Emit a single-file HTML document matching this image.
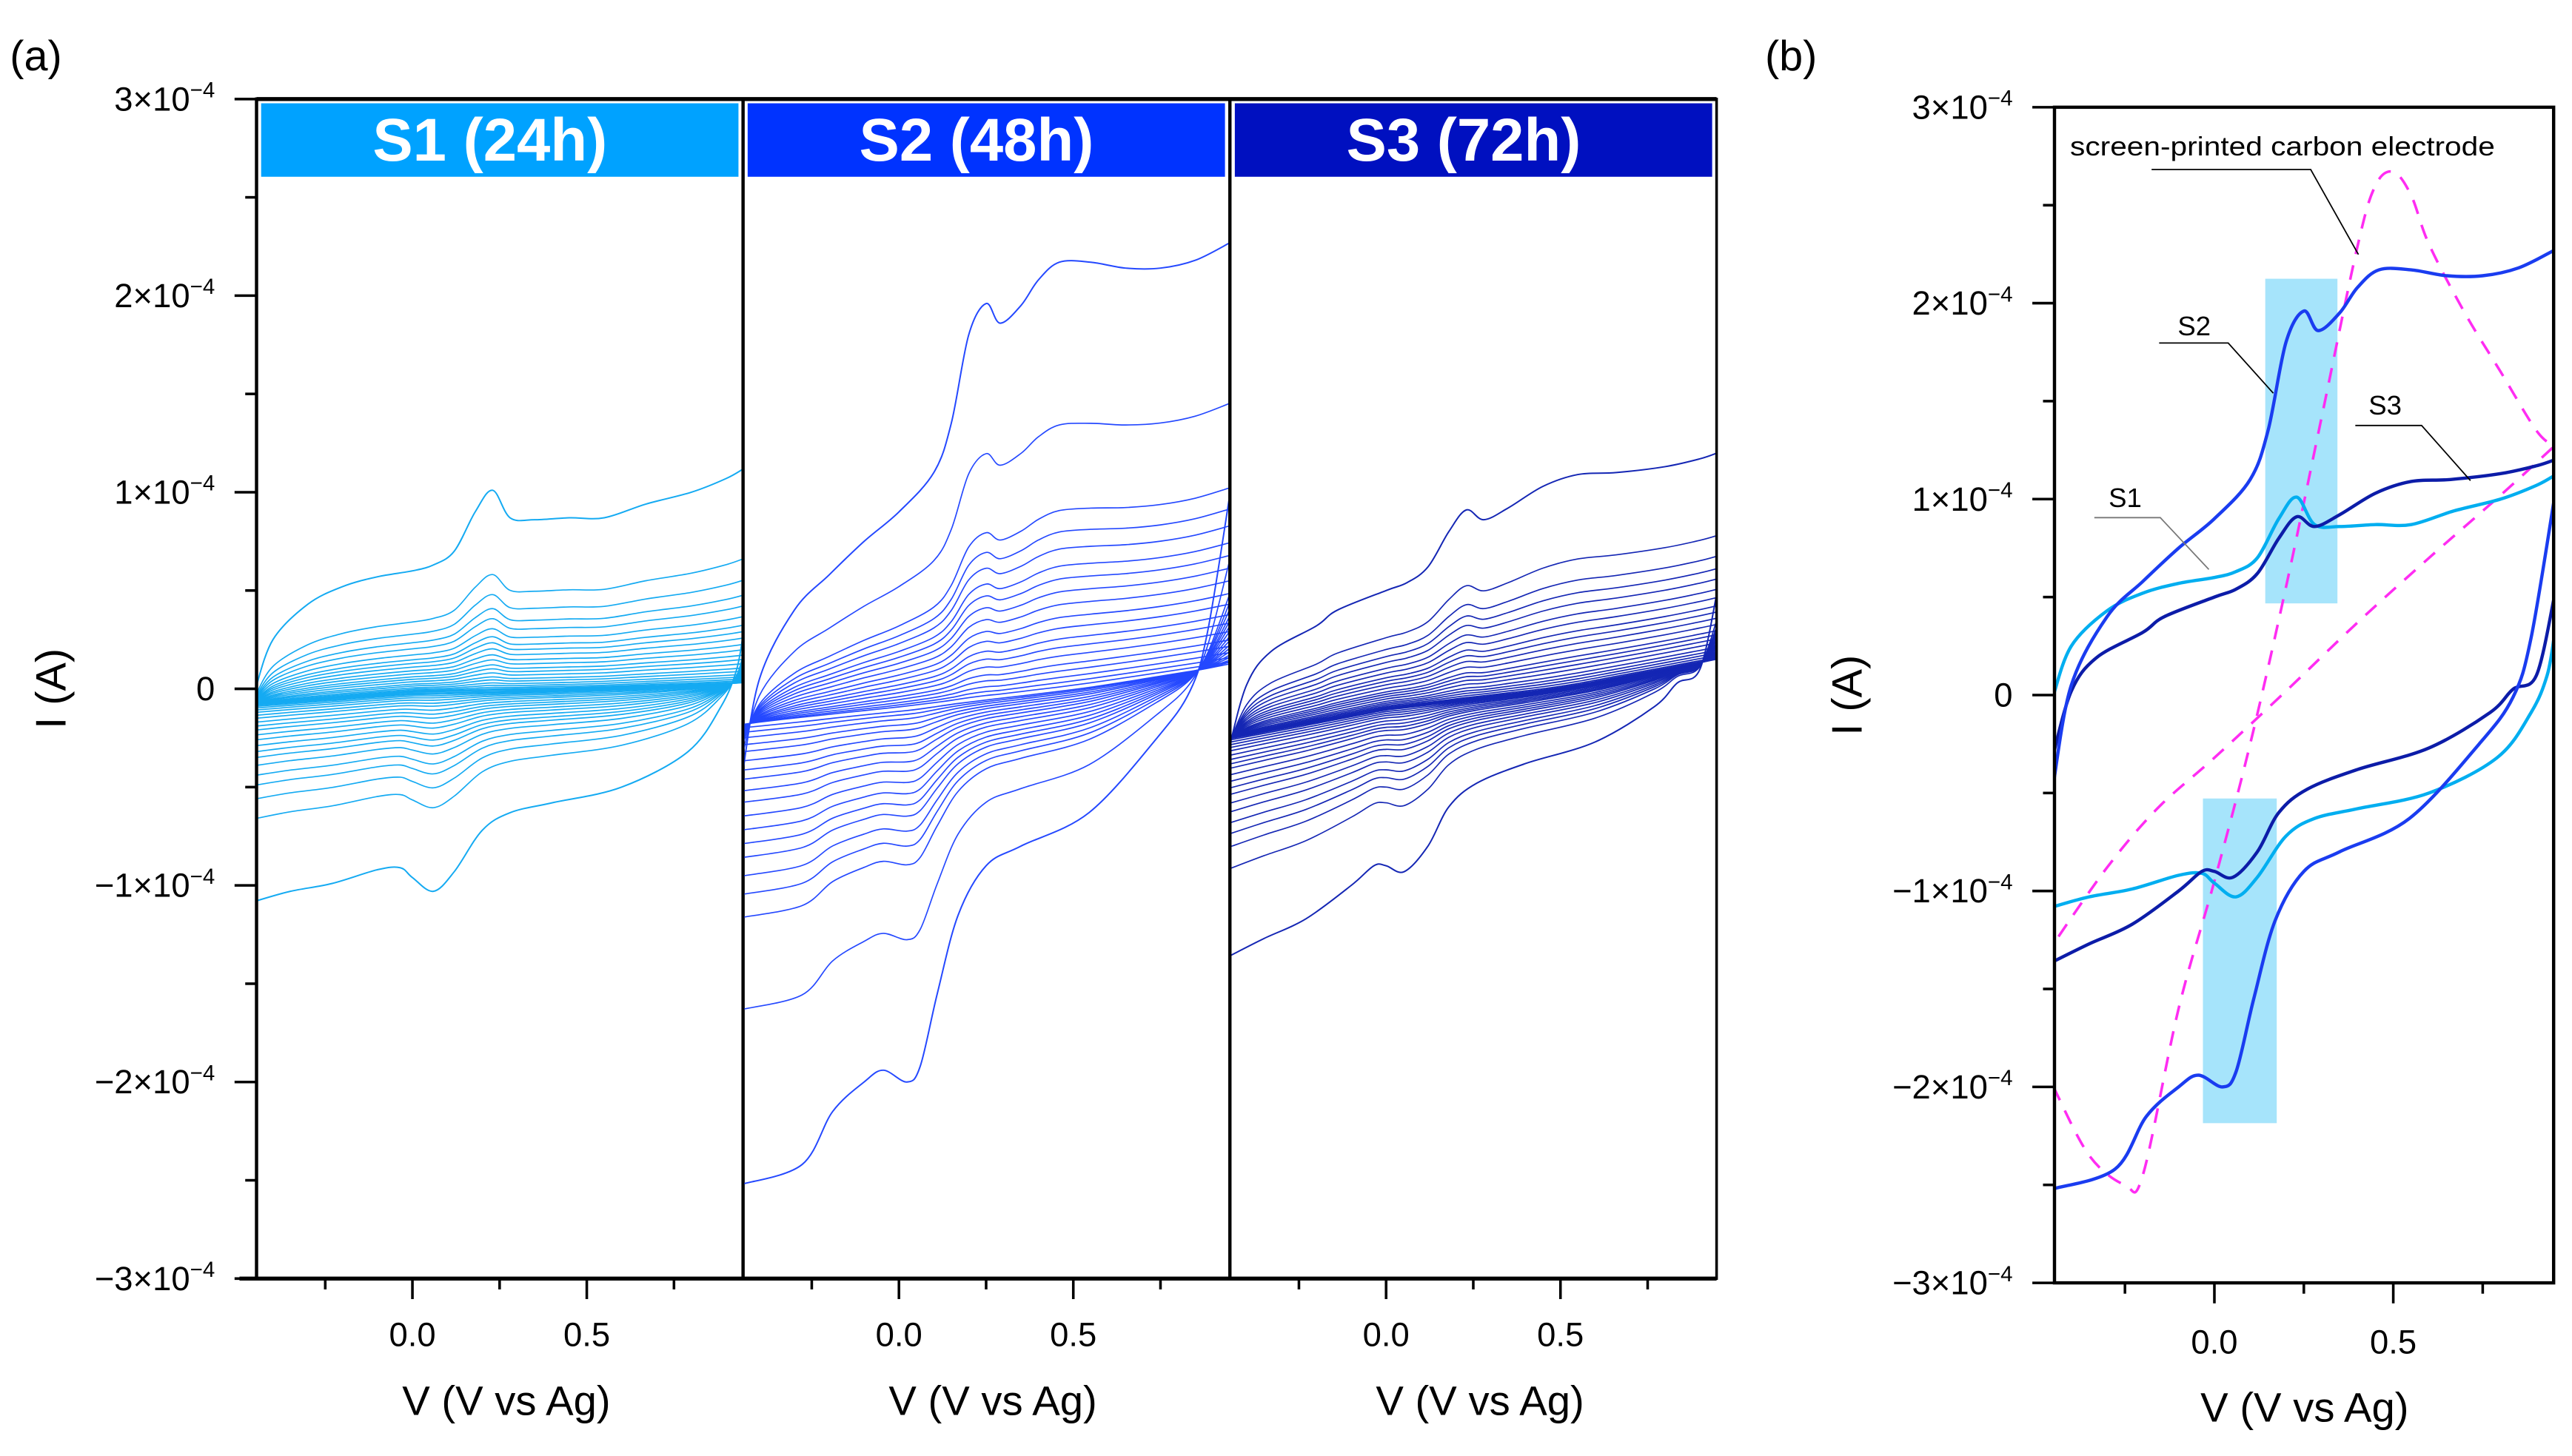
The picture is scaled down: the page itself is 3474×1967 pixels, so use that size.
<!DOCTYPE html>
<html><head><meta charset="utf-8"><style>
html,body{margin:0;padding:0;background:#fff;}
svg{display:block;font-family:"Liberation Sans",Arial,sans-serif;}
</style></head><body>
<svg id="fig" width="3474" height="1967" viewBox="0 0 1568 888" preserveAspectRatio="none" xmlns="http://www.w3.org/2000/svg">
<defs>
<clipPath id="clipA1"><rect x="156.4" y="60.4" width="296.6" height="719.4"/></clipPath>
<clipPath id="clipA2"><rect x="453" y="60.4" width="297" height="719.4"/></clipPath>
<clipPath id="clipA3"><rect x="750" y="60.4" width="296.5" height="719.4"/></clipPath>
<clipPath id="clipB"><rect x="1252.5" y="65.4" width="304.3" height="717"/></clipPath>
</defs>
<rect width="1568" height="888" fill="#fff"/>
<g id="layer"></g>
</svg>
<script>
// ---- data (V in volts, I in 1e-4 A) ----
const S1_up_V = [-0.45,-0.4,-0.3,-0.2,-0.1,0,0.06,0.12,0.18,0.23,0.28,0.35,0.45,0.55,0.67,0.8,0.9,0.95];
const S1_up_I = [0.0,0.25,0.43,0.52,0.57,0.6,0.63,0.7,0.9,1.01,0.87,0.86,0.87,0.87,0.94,1.0,1.07,1.12];
const S1_dn_V = [0.95,0.93,0.885,0.79,0.6,0.4,0.28,0.2,0.12,0.06,0.0,-0.035,-0.1,-0.23,-0.35,-0.45];
const S1_dn_I = [0.3,0.1,-0.09,-0.32,-0.5,-0.58,-0.63,-0.72,-0.93,-1.03,-0.96,-0.91,-0.92,-0.99,-1.03,-1.08];

const S2_up_V = [-0.45,-0.4,-0.3,-0.2,-0.1,0,0.1,0.15,0.2,0.25,0.29,0.35,0.4,0.46,0.55,0.65,0.75,0.85,0.95];
const S2_up_I = [-0.45,0.05,0.4,0.58,0.75,0.9,1.1,1.35,1.8,1.96,1.86,1.95,2.08,2.17,2.17,2.14,2.14,2.18,2.27];
const S2_dn_V = [0.95,0.885,0.835,0.74,0.545,0.35,0.25,0.17,0.11,0.061,0.023,-0.045,-0.1,-0.19,-0.278,-0.45];
const S2_dn_I = [1.0,0.29,-0.01,-0.25,-0.63,-0.8,-0.9,-1.15,-1.55,-1.92,-2.0,-1.94,-2.0,-2.15,-2.42,-2.52];

const S3_up_V = [-0.45,-0.4,-0.33,-0.2,-0.14,0,0.06,0.12,0.18,0.23,0.28,0.35,0.45,0.55,0.66,0.8,0.9,0.95];
const S3_up_I = [-0.3,0.02,0.19,0.32,0.4,0.5,0.54,0.62,0.8,0.91,0.86,0.92,1.03,1.09,1.1,1.13,1.17,1.2];
const S3_dn_V = [0.95,0.9,0.835,0.77,0.6,0.4,0.26,0.18,0.12,0.052,0.0,-0.035,-0.1,-0.23,-0.35,-0.45];
const S3_dn_I = [0.5,0.1,0.03,-0.09,-0.27,-0.38,-0.48,-0.6,-0.8,-0.93,-0.9,-0.9,-1.0,-1.17,-1.27,-1.36];

const SPCE_up_V = [-0.45,-0.35,-0.25,-0.2,-0.1,0,0.1,0.2,0.3,0.4,0.45,0.5,0.55,0.6,0.7,0.8,0.9,0.95];
const SPCE_up_I = [-2.0,-2.35,-2.5,-2.45,-1.6,-0.95,-0.25,0.55,1.42,2.29,2.6,2.67,2.55,2.3,1.95,1.65,1.35,1.27];
const SPCE_dn_V = [0.95,0.8,0.6,0.4,0.2,0,-0.16,-0.3,-0.45];
const SPCE_dn_I = [1.27,1.02,0.7,0.37,0.02,-0.32,-0.58,-0.88,-1.27];

// nested-cycle baselines and amplitude factors for panel (a)
const S1_mid_V = [-0.45,0,0.5,0.95];
const S1_mid_I = [-0.08,-0.02,0.0,0.03];
const S2_mid_V = [-0.45,0,0.5,0.95];
const S2_mid_I = [-0.18,-0.1,0.0,0.12];
const S3_mid_V = [-0.45,0,0.5,0.95];
const S3_mid_I = [-0.25,-0.1,0.0,0.15];
const S1_scales = [1,0.58,0.48,0.41,0.36,0.31,0.27,0.24,0.21,0.18,0.155,0.13,0.11,0.09,0.07,0.055,0.04,0.028,0.018,0.01,0.004];
const S2_scales = [1,0.62,0.42,0.37,0.33,0.29,0.26,0.23,0.2,0.17,0.145,0.12,0.1,0.08,0.06,0.045,0.03,0.018,0.008];
const S3_scales = [1,0.6,0.5,0.44,0.39,0.34,0.3,0.26,0.23,0.2,0.17,0.14,0.12,0.1,0.08,0.06,0.045,0.032,0.02,0.01,0.004];

const yTickVals = [3,2,1,0,-1,-2,-3];
const yTickLabels = ["3×10","2×10","1×10","0","−1×10","−2×10","−3×10"];
const xTickVals = [0,0.5];
const xTickLabels = ["0.0","0.5"];
const xMinorVals = [-0.25,0.25,0.75];
const panelTitles = ["S1 (24h)","S2 (48h)","S3 (72h)"];

// ---- helpers ----
const NS="http://www.w3.org/2000/svg";
const layer=document.getElementById('layer');
function mk(tag,attrs,parent){const e=document.createElementNS(NS,tag);for(const k in attrs)e.setAttribute(k,attrs[k]);(parent||layer).appendChild(e);return e;}
function interp(vs,is,v){if(v<=vs[0])return is[0];for(let i=1;i<vs.length;i++){if(v<=vs[i]){const t=(v-vs[i-1])/(vs[i]-vs[i-1]);return is[i-1]+t*(is[i]-is[i-1]);}}return is[is.length-1];}
function smooth(pts){let d="M"+pts[0][0].toFixed(2)+","+pts[0][1].toFixed(2);
 for(let i=0;i<pts.length-1;i++){const p0=pts[Math.max(0,i-1)],p1=pts[i],p2=pts[i+1],p3=pts[Math.min(pts.length-1,i+2)];
  const c1=[p1[0]+(p2[0]-p0[0])/6,p1[1]+(p2[1]-p0[1])/6],c2=[p2[0]-(p3[0]-p1[0])/6,p2[1]-(p3[1]-p1[1])/6];
  d+="C"+c1[0].toFixed(2)+","+c1[1].toFixed(2)+" "+c2[0].toFixed(2)+","+c2[1].toFixed(2)+" "+p2[0].toFixed(2)+","+p2[1].toFixed(2);}
 return d;}
function cyclePath(ax,upV,upI,dnV,dnI,k,midV,midI){
 const f=(v,i)=>{const m=midV?interp(midV,midI,v):0;return [ax.x(v),ax.y(m+k*(i-m))];};
 const up=upV.map((v,j)=>f(v,upI[j])),dn=dnV.map((v,j)=>f(v,dnI[j]));
 return smooth(up)+"L"+dn[0][0].toFixed(2)+","+dn[0][1].toFixed(2)+smooth(dn).replace(/^M[^C]*/,"")+"L"+up[0][0].toFixed(2)+","+up[0][1].toFixed(2);}

function yLabel(x,y,idx,size){
 const t=mk('text',{x:x,y:y,'text-anchor':'end','font-size':size,fill:'#000'});
 
 
 t.appendChild(document.createTextNode(yTickLabels[idx]));
 if(yTickVals[idx]!==0){const s=mk('tspan',{dy:-8,'font-size':size*0.65},t);s.textContent="−4";}
}

// ---- panel (a) ----
const aTop=60.4,aUnit=119.9,aZero=aTop+3*aUnit,aBottom=aTop+6*aUnit;
const aLefts=[156.4,453,750],aW=296.6,aXS=212.6;
const aColors=["#14aaf2","#2448ff","#1426b4"];
const hdrColors=["#00a2ff","#0033ff","#0010c0"];
const aData=[[S1_up_V,S1_up_I,S1_dn_V,S1_dn_I,S1_scales,S1_mid_V,S1_mid_I],[S2_up_V,S2_up_I,S2_dn_V,S2_dn_I,S2_scales,S2_mid_V,S2_mid_I],[S3_up_V,S3_up_I,S3_dn_V,S3_dn_I,S3_scales,S3_mid_V,S3_mid_I]];
for(let p=0;p<3;p++){
 const L=aLefts[p];const ax={x:v=>L+(v+0.447)*aXS,y:i=>aZero-i*aUnit};
 const g=mk('g',{'clip-path':'url(#clipA'+(p+1)+')'});
 
 
 const D=aData[p];
 D[4].forEach((k,ci)=>{const e=mk('path',{d:cyclePath(ax,D[0],D[1],D[2],D[3],k,D[5],D[6]),fill:'none',stroke:aColors[p],'stroke-width':ci===0?0.9:0.75},g);
  
  });
 const h=mk('rect',{x:L+2.8,y:63,width:aW-5.6,height:44.8,fill:hdrColors[p]});
 
 
 const ht=mk('text',{x:L+aW/2-6,y:98,'text-anchor':'middle','font-size':37,'font-weight':'bold',fill:'#fff',textLength:143,lengthAdjust:'spacingAndGlyphs'});
 
 
 ht.textContent=panelTitles[p];
 xTickVals.forEach((v,j)=>{mk('line',{x1:ax.x(v),x2:ax.x(v),y1:aBottom,y2:aBottom+12.5,stroke:'#000','stroke-width':1.6});
  const t=mk('text',{x:ax.x(v),y:821,'text-anchor':'middle','font-size':20.5,fill:'#000'});
  
  
  t.textContent=xTickLabels[j];});
 xMinorVals.forEach(v=>{mk('line',{x1:ax.x(v),x2:ax.x(v),y1:aBottom,y2:aBottom+6.6,stroke:'#000','stroke-width':1.6});});
 const xt=mk('text',{x:L+aW/2+4,y:863,'text-anchor':'middle','font-size':25,fill:'#000',textLength:127,lengthAdjust:'spacingAndGlyphs'});
 
 
 xt.textContent="V (V vs Ag)";
 const fr=mk('rect',{x:L,y:aTop,width:(p===2?296.5:296.6),height:aBottom-aTop,fill:'none',stroke:'#000','stroke-width':p===0?2:1.6});
 
 
}
mk('line',{x1:156.4,x2:1046.5,y1:aTop,y2:aTop,stroke:'#000','stroke-width':2.4});
mk('line',{x1:146,x2:1046.5,y1:aBottom,y2:aBottom,stroke:'#000','stroke-width':2.4});
yTickVals.forEach((v,j)=>{const y=aZero-v*aUnit;mk('line',{x1:143,x2:156.4,y1:y,y2:y,stroke:'#000','stroke-width':1.6});yLabel(131,y+7,j,20.5);
 if(j<6){const ym=y+aUnit/2;mk('line',{x1:149.5,x2:156.4,y1:ym,y2:ym,stroke:'#000','stroke-width':1.6});}});

// ---- panel (b) ----
const bTop=65.4,bUnit=119.5,bZero=bTop+3*bUnit,bBottom=bTop+6*bUnit,bL=1252.5,bR=1556.8,bXS=218.1;
const bx={x:v=>bL+(v+0.447)*bXS,y:i=>bZero-i*bUnit};
const hl1=mk('rect',{x:1381,y:170,width:44,height:198,fill:'#a6e4fb'});


const hl2=mk('rect',{x:1343,y:487,width:45,height:198,fill:'#a6e4fb'});


const gb=mk('g',{'clip-path':'url(#clipB)'});


const sp=mk('path',{d:cyclePath(bx,SPCE_up_V,SPCE_up_I,SPCE_dn_V,SPCE_dn_I,1),fill:'none',stroke:'#ff2cf2','stroke-width':1.6,'stroke-dasharray':'9,7'},gb);


const c1=mk('path',{d:cyclePath(bx,S1_up_V,S1_up_I,S1_dn_V,S1_dn_I,1),fill:'none',stroke:'#00aef0','stroke-width':2},gb);


const c3=mk('path',{d:cyclePath(bx,S3_up_V,S3_up_I,S3_dn_V,S3_dn_I,1),fill:'none',stroke:'#0c1ca8','stroke-width':2},gb);


const c2=mk('path',{d:cyclePath(bx,S2_up_V,S2_up_I,S2_dn_V,S2_dn_I,1),fill:'none',stroke:'#1a3cf0','stroke-width':2},gb);


const fb=mk('rect',{x:bL,y:bTop,width:bR-bL,height:bBottom-bTop,fill:'none',stroke:'#000','stroke-width':2});


yTickVals.forEach((v,j)=>{const y=bZero-v*bUnit;mk('line',{x1:1239,x2:bL,y1:y,y2:y,stroke:'#000','stroke-width':1.6});yLabel(1227,y+7,j,20.5);
 if(j<6){const ym=y+bUnit/2;mk('line',{x1:1245.5,x2:bL,y1:ym,y2:ym,stroke:'#000','stroke-width':1.6});}});
xTickVals.forEach((v,j)=>{mk('line',{x1:bx.x(v),x2:bx.x(v),y1:bBottom,y2:bBottom+12.5,stroke:'#000','stroke-width':1.6});
 const t=mk('text',{x:bx.x(v),y:825.5,'text-anchor':'middle','font-size':20.5,fill:'#000'});
 
 
 t.textContent=xTickLabels[j];});
xMinorVals.forEach(v=>{mk('line',{x1:bx.x(v),x2:bx.x(v),y1:bBottom,y2:bBottom+6.6,stroke:'#000','stroke-width':1.6});});
const xtb=mk('text',{x:1405,y:867,'text-anchor':'middle','font-size':25,fill:'#000',textLength:127,lengthAdjust:'spacingAndGlyphs'});


xtb.textContent="V (V vs Ag)";

// annotations
function ann(name,txt,tx,ty,pts,col){const t=mk('text',{x:tx,y:ty,'font-size':16.5,fill:'#000'});
 
 
 t.textContent=txt;
 const l=mk('polyline',{points:pts,fill:'none',stroke:col,'stroke-width':0.8});
 
 
 return t;}
const tsp=ann('spce','screen-printed carbon electrode',1262,94.7,'1311.7,103.4 1408.7,103.4 1437.8,155.2','#000');
tsp.setAttribute('textLength','259');tsp.setAttribute('lengthAdjust','spacingAndGlyphs');
ann('s2','S2',1327.6,204.5,'1316.3,209.2 1358.4,209.2 1385.9,239.8','#000');
ann('s3','S3',1444,252.9,'1435.9,259.5 1476.3,259.5 1506.1,293.1','#000');
ann('s1','S1',1285.5,309.3,'1276.8,315.7 1317,315.7 1346.6,347.3','#777');

// titles
function txt(name,s,x,y,size,rot){const t=mk('text',{x:x,y:y,'font-size':size,fill:'#000','text-anchor':rot?'middle':'start'});
 if(rot)t.setAttribute('transform','rotate(-90 '+x+' '+y+')');
 
 
 t.textContent=s;}
txt('panel-a-label','(a)',6,43,26);
txt('panel-b-label','(b)',1076,43,26);
txt('y-axis-title','I (A)',40,420,26,true);
txt('y-axis-title-b','I (A)',1135,424,26,true);
</script>
</body></html>
